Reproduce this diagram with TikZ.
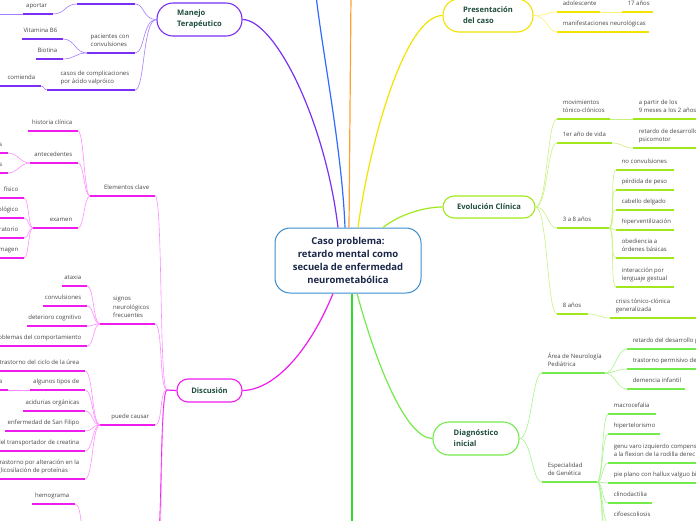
\documentclass[tikz,border=0pt]{standalone}
\usepackage{fontspec}
\setmainfont{Open Sans}
\definecolor{centreline}{HTML}{3A8CCC}
\definecolor{centretext}{HTML}{1B2748}
\definecolor{topictext}{HTML}{1F4D3A}
\definecolor{leaftext}{HTML}{454545}
\definecolor{violeta}{HTML}{7A2FF5}
\definecolor{violetaclaro}{HTML}{A67DFF}
\definecolor{azul}{HTML}{2F6BFF}
\definecolor{naranja}{HTML}{FFA033}
\definecolor{amarillo}{HTML}{F2E300}
\definecolor{amarilloclaro}{HTML}{FFF170}
\definecolor{lima}{HTML}{A0E81C}
\definecolor{limaclaro}{HTML}{C8F27E}
\definecolor{verde}{HTML}{74EA4C}
\definecolor{verdeclaro}{HTML}{A6F38E}
\definecolor{verdefuerte}{HTML}{2EDD2E}
\definecolor{fucsia}{HTML}{EE1CEE}
\definecolor{fucsiaclaro}{HTML}{FF8CFF}
\begin{document}
\begin{tikzpicture}[x=1pt,y=-1pt]
    % Define styles
    \tikzset{
        centre/.style={draw=centreline, line width=1pt, rounded corners=15pt, fill=white, align=center, text=centretext, font=\fontsize{9.5}{13}\selectfont\bfseries, minimum width=146pt, minimum height=65pt, inner sep=0pt},
        topic/.style={draw=#1, line width=1.1pt, fill=white, align=left, text=topictext, font=\fontsize{7.6}{11}\selectfont\bfseries, inner sep=0pt},
        branch/.style={line width=1.2pt},
        uline/.style={line width=1.6pt},
        conn/.style={line width=0.6pt},
        rtext/.style={anchor=south west, xshift=5pt, yshift=4pt, inner sep=0pt, align=left, text depth=1.5pt, text=leaftext, font=\fontsize{6}{8.5}\selectfont},
        ltext/.style={anchor=south east, xshift=-5pt, yshift=4pt, inner sep=0pt, align=left, text depth=1.5pt, text=leaftext, font=\fontsize{6}{8.5}\selectfont}
    }
    \useasboundingbox (0,0) rectangle (696,520);

    % Central topic and main topics
    \node[centre] (caso) at (348,260.5) {Caso problema:\\retardo mental como\\secuela de enfermedad\\neurometabólica};
    \node[topic=violeta, minimum width=85pt, minimum height=33pt, rounded corners=16pt] (manejo) at (199.5,19.5) {Manejo\\Terapéutico};
    \node[topic=amarillo, minimum width=90pt, minimum height=33pt, rounded corners=16pt] (presentacion) at (488,15.5) {Presentación\\del caso};
    \node[topic=lima, minimum width=92pt, minimum height=22pt, rounded corners=11pt] (evolucion) at (489,207) {Evolución Clínica};
    \node[topic=verde, minimum width=86pt, minimum height=33pt, rounded corners=16pt] (diagnostico) at (476,438.5) {Diagnóstico\\inicial};
    \node[topic=fucsia, minimum width=65pt, minimum height=23pt, rounded corners=11pt] (discusion) at (209.5,390.5) {Discusión};

    % Branches from the central topic
    \coordinate (azul-fin) at (316,-5);
    \coordinate (naranja-fin) at (351,-5);
    \coordinate (verde-fin) at (352,530);
    \draw[branch, violeta] ([xshift=-10pt]caso.north) .. controls (325,120) and (275,20) .. (manejo.east);
    \draw[branch, azul] ([xshift=-3pt]caso.north) .. controls (342,150) and (322,50) .. (azul-fin);
    \draw[branch, naranja] ([xshift=1pt]caso.north) -- (naranja-fin);
    \draw[branch, amarillo] ([xshift=10pt]caso.north) .. controls (370,140) and (405,16) .. (presentacion.west);
    \draw[branch, lima] ([xshift=35pt]caso.north) .. controls (400,214) and (425,207) .. (evolucion.west);
    \draw[branch, fucsia] ([xshift=-15pt]caso.south) .. controls (310,350) and (275,390) .. (discusion.east);
    \draw[branch, verdefuerte] ([xshift=4pt]caso.south) -- (verde-fin);
    \draw[branch, verde] ([xshift=9pt]caso.south) .. controls (375,360) and (405,438) .. (diagnostico.west);

    % Presentacion del caso
    \draw[uline, amarillo] (557,12) coordinate (adol-l) node[rtext] (adol) {adolescente} -- (600,12) coordinate (adol-r);
    \draw[uline, amarillo] (622,12) coordinate (edad-l) node[rtext] (edad) {17 años} -- (653,12) coordinate (edad-r);
    \draw[uline, amarillo] (557,32) coordinate (manif-l) node[rtext] (manif) {manifestaciones neurológicas} -- (649,32) coordinate (manif-r);
    \foreach \c in {adol, manif}
        \draw[conn, amarilloclaro] (presentacion.east) .. controls +(14,0) and +(-10,0) .. (\c-l);
    \draw[conn, amarilloclaro] (adol-r) -- (edad-l);

    % Evolucion clinica
    \draw[uline, lima] (557,119) coordinate (mov-l) node[rtext] (mov) {movimientos\\tónico-clónicos} -- (610,119) coordinate (mov-r);
    \draw[uline, lima] (633,119) coordinate (edadmov-l) node[rtext] (edadmov) {a partir de los\\9 meses a los 2 años} -- (700,119) coordinate (edadmov-r);
    \draw[uline, lima] (557,143) coordinate (vida-l) node[rtext] (vida) {1er año de vida} -- (612,143) coordinate (vida-r);
    \draw[uline, lima] (633,148) coordinate (psico-l) node[rtext] (psico) {retardo de desarrollo\\psicomotor} -- (700,148) coordinate (psico-r);
    \draw[uline, lima] (557,228) coordinate (tres-l) node[rtext] (tres) {3 a 8 años} -- (609,228) coordinate (tres-r);
    \draw[uline, lima] (557,314) coordinate (ocho-l) node[rtext] (ocho) {8 años} -- (588,314) coordinate (ocho-r);
    \draw[uline, lima] (610,318) coordinate (crisis-l) node[rtext] (crisis) {crisis tónico-clónica\\generalizada} -- (700,318) coordinate (crisis-r);
    \foreach \c in {mov, vida, tres, ocho}
        \draw[conn, limaclaro] (evolucion.east) .. controls +(12,0) and +(-10,0) .. (\c-l);
    \draw[conn, limaclaro] (mov-r) -- (edadmov-l);
    \draw[conn, limaclaro] (vida-r) .. controls +(10,0) and +(-10,0) .. (psico-l);
    \draw[conn, limaclaro] (ocho-r) .. controls +(10,0) and +(-10,0) .. (crisis-l);
    \foreach \n/\y/\t in {noconv/170/{no convulsiones}, peso/190/{pérdida de peso}, pelo/210/{cabello delgado}, hiperv/230/{hiperventilización}, obed/258/{obediencia a\\órdenes básicas}, gesto/287/{interacción por\\lenguaje gestual}} {
        \draw[uline, lima] (616,\y) coordinate (\n-l) node[rtext] (\n) {\t} -- (674,\y) coordinate (\n-r);
        \draw[conn, limaclaro] (tres-r) .. controls +(6,0) and +(-6,0) .. (\n-l);
    }

    % Diagnostico inicial
    \draw[uline, verde] (542,373) coordinate (area-l) node[rtext] (area) {Área de Neurología\\Pediátrica} -- (605,373) coordinate (area-r);
    \draw[uline, verde] (542,482) coordinate (espec-l) node[rtext] (espec) {Especialidad\\de Genética} -- (597,482) coordinate (espec-r);
    \foreach \c in {area, espec}
        \draw[conn, verdeclaro] (diagnostico.east) .. controls +(12,0) and +(-10,0) .. (\c-l);
    \foreach \n/\y/\x/\t in {retdes/349/700/{retardo del desarrollo p}, permis/369/700/{trastorno permisivo de}, demen/389/685/{demencia infantil}} {
        \draw[uline, verde] (627,\y) coordinate (\n-l) node[rtext] (\n) {\t} -- (\x,\y) coordinate (\n-r);
        \draw[conn, verdeclaro] (area-r) .. controls +(10,0) and +(-10,0) .. (\n-l);
    }
    \foreach \n/\y/\x/\t in {macro/414/656/{macrocefalia}, hipert/434/660/{hipertelorismo}, genu/463/700/{genu varo izquierdo compens\\a la flexion de la rodilla derec}, pie/483/700/{pie plano con hallux valguo bi}, clino/503/652/{clinodactilia}, cifo/523/660/{cifoescoliosis}} {
        \draw[uline, verde] (608,\y) coordinate (\n-l) node[rtext] (\n) {\t} -- (\x,\y) coordinate (\n-r);
        \draw[conn, verdeclaro] (espec-r) .. controls +(6,0) and +(-6,0) .. (\n-l);
    }
    \coordinate (gen7-l) at (608,545);
    \coordinate (gen8-l) at (608,565);
    \foreach \c in {gen7, gen8}
        \draw[conn, verdeclaro] (espec-r) .. controls +(6,0) and +(-6,0) .. (\c-l);

    % Manejo terapeutico
    \draw[uline, violeta] (77,4) coordinate (mtop-l) -- (135,4) coordinate (mtop-r);
    \draw[uline, violeta] (23,14) coordinate (aportar-l) -- (53,14) coordinate (aportar-r) node[ltext] (aportar) {aportar};
    \draw[uline, violeta] (87,53) coordinate (pac-l) -- (135,53) coordinate (pac-r) node[ltext] (pac) {pacientes con\\convulsiones};
    \draw[uline, violeta] (22,39) coordinate (vitb-l) -- (63,39) coordinate (vitb-r) node[ltext] (vitb) {Vitamina B6};
    \draw[uline, violeta] (36,59) coordinate (biot-l) -- (63,59) coordinate (biot-r) node[ltext] (biot) {Biotina};
    \draw[uline, violeta] (47,90) coordinate (valp-l) -- (135,90) coordinate (valp-r) node[ltext] (valp) {casos de complicaciones\\por ácido valpróico};
    \draw[uline, violeta] (-5,86) coordinate (recom-l) -- (41,86) coordinate (recom-r) node[ltext] (recom) {comienda};
    \coordinate (aportar2-r) at (-5,14);
    \foreach \c in {mtop, pac, valp}
        \draw[conn, violetaclaro] (manejo.west) .. controls +(-14,0) and +(10,0) .. (\c-r);
    \draw[conn, violetaclaro] (mtop-l) .. controls +(-12,0) and +(12,0) .. (aportar-r);
    \draw[conn, violetaclaro] (aportar-l) -- (aportar2-r);
    \foreach \c in {vitb, biot}
        \draw[conn, violetaclaro] (pac-l) .. controls +(-12,0) and +(12,0) .. (\c-r);
    \draw[conn, violetaclaro] (valp-l) .. controls +(-3,0) and +(3,0) .. (recom-r);

    % Discusion
    \coordinate (disc-j) at (167,390);
    \draw[branch, fucsia] (discusion.west) -- (disc-j);
    \draw[uline, fucsia] (90,196) coordinate (elem-l) -- (155,196) coordinate (elem-r) node[ltext] (elem) {Elementos clave};
    \draw[uline, fucsia] (100,324) coordinate (signos-l) -- (155,324) coordinate (signos-r) node[ltext] (signos) {signos\\neurológicos\\frecuentes};
    \draw[uline, fucsia] (100,425) coordinate (causar-l) -- (155,425) coordinate (causar-r) node[ltext] (causar) {puede causar};
    \coordinate (disc5-r) at (155,560);
    \coordinate (disc6-r) at (155,620);
    \foreach \c in {elem, signos, causar, disc5, disc6}
        \draw[conn, fucsiaclaro] (disc-j) .. controls +(-8,0) and +(8,0) .. (\c-r);
    \draw[conn, fucsia] (disc-j) .. controls +(-8,0) and +(8,0) .. (disc5-r);

    % Elementos clave
    \draw[uline, fucsia] (28,131) coordinate (hist-l) -- (78,131) coordinate (hist-r) node[ltext] (hist) {historia clínica};
    \draw[uline, fucsia] (30,163) coordinate (antec-l) -- (78,163) coordinate (antec-r) node[ltext] (antec) {antecedentes};
    \draw[uline, fucsia] (33,228) coordinate (examen-l) -- (78,228) coordinate (examen-r) node[ltext] (examen) {examen};
    \foreach \c in {hist, antec, examen}
        \draw[conn, fucsiaclaro] (elem-l) .. controls +(-6,0) and +(6,0) .. (\c-r);
    \foreach \n/\y in {antpers/153, antfam/173} {
        \draw[uline, fucsia] (-5,\y) coordinate (\n-l) -- (8,\y) coordinate (\n-r) node[ltext] (\n) {s};
        \draw[conn, fucsiaclaro] (antec-l) .. controls +(-10,0) and +(10,0) .. (\n-r);
    }
    \foreach \n/\y/\t in {fisico/198/{físico}, neuro/218/{ológico}, labor/238/{ratorio}, imagen/258/{magen}} {
        \draw[uline, fucsia] (-5,\y) coordinate (\n-l) -- (24,\y) coordinate (\n-r) node[ltext] (\n) {\t};
        \draw[conn, fucsiaclaro] (examen-l) .. controls +(-5,0) and +(5,0) .. (\n-r);
    }

    % Signos neurologicos frecuentes
    \foreach \n/\y/\x/\t in {ataxia/286/62/{ataxia}, convul/306/43/{convulsiones}, cognit/326/27/{deterioro cognitivo}, conduc/346/-5/{oblemas del comportamiento}} {
        \draw[uline, fucsia] (\x,\y) coordinate (\n-l) -- (87,\y) coordinate (\n-r) node[ltext] (\n) {\t};
        \draw[conn, fucsiaclaro] (signos-l) .. controls +(-7,0) and +(7,0) .. (\n-r);
    }

    % Puede causar
    \foreach \n/\y/\x/\t in {urea/371/-5/{trastorno del ciclo de la úrea}, tipos/390/30/{algunos tipos de}, acid/411/23/{acidurias orgánicas}, sanfil/431/5/{enfermedad de San Filipo}, creat/451/-5/{del transportador de creatina}, glico/479/-5/{trastorno por alteración en la\\glicosilación de proteínas}} {
        \draw[uline, fucsia] (\x,\y) coordinate (\n-l) -- (85,\y) coordinate (\n-r) node[ltext] (\n) {\t};
        \draw[conn, fucsiaclaro] (causar-l) .. controls +(-8,0) and +(8,0) .. (\n-r);
    }
    \draw[uline, fucsia] (-5,390) coordinate (tiposa-l) -- (8,390) coordinate (tiposa-r) node[ltext] (tiposa) {a};
    \draw[conn, fucsiaclaro] (tipos-l) -- (tiposa-r);

    % Hemograma (parent below the page)
    \coordinate (labs-l) at (88,545);
    \draw[uline, fucsia] (32,504) coordinate (hemo-l) -- (75,504) coordinate (hemo-r) node[ltext] (hemo) {hemograma};
    \draw[conn, fucsiaclaro] (labs-l) .. controls +(-8,0) and +(8,0) .. (hemo-r);
\end{tikzpicture}
\end{document}
